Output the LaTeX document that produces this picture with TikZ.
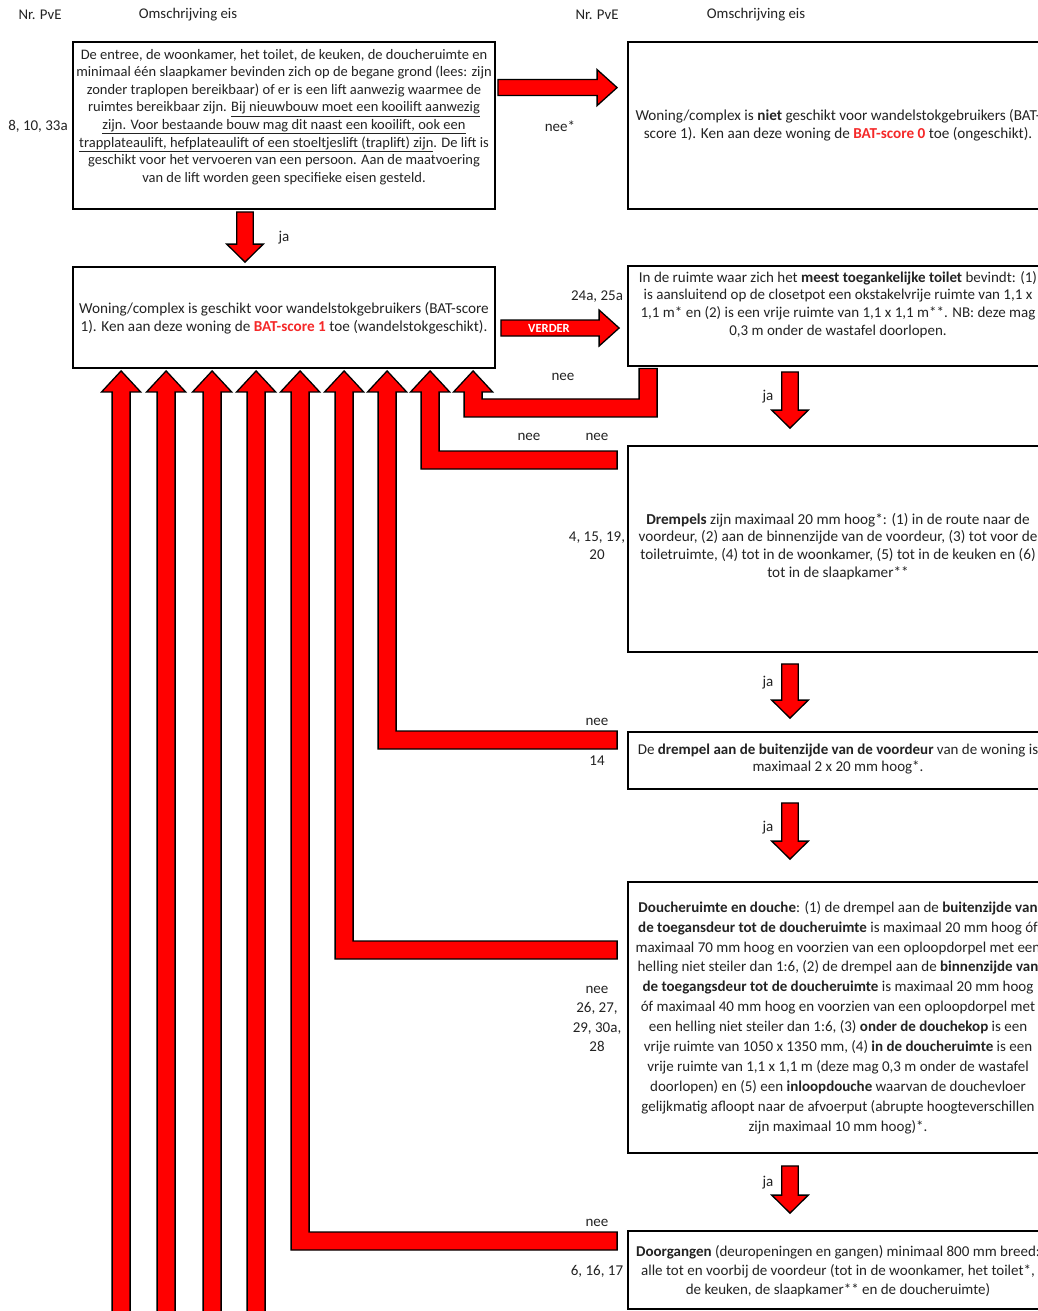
\documentclass[tikz,border=0pt]{standalone}
\usepackage{fontspec}
\setmainfont{Carlito}
\usetikzlibrary{calc}
\definecolor{arrred}{RGB}{255,0,0}
\definecolor{txt}{RGB}{35,35,35}
\definecolor{batred}{RGB}{245,40,40}
\newcommand\bred[1]{\textcolor{batred}{\textbf{#1}}}
% block arrows
\newcommand\rarr[2]{\path[blk] let \p1=(#1), \p2=(#2) in
  (\x1,\y1+8pt) -- (\x2-20pt,\y1+8pt) -- (\x2-20pt,\y1+18pt) -- (\x2,\y1)
  -- (\x2-20pt,\y1-18pt) -- (\x2-20pt,\y1-8pt) -- (\x1,\y1-8pt) -- cycle;}
\newcommand\darr[2]{\path[blk] let \p1=(#1), \p2=(#2) in
  (\x1-8.3pt,\y1) -- (\x1-8.3pt,\y2+18pt) -- (\x1-18.3pt,\y2+18pt) -- (\x1,\y2)
  -- (\x1+18.3pt,\y2+18pt) -- (\x1+8.3pt,\y2+18pt) -- (\x1+8.3pt,\y1) -- cycle;}
\newcommand\uarr[2]{\path[blk] let \p1=(#1), \p2=(#2) in
  (\x2-9pt,\y1) -- (\x2-9pt,\y2-21pt) -- (\x2-19.5pt,\y2-21pt) -- (\x2,\y2)
  -- (\x2+19.5pt,\y2-21pt) -- (\x2+9pt,\y2-21pt) -- (\x2+9pt,\y1) -- cycle;}
\newcommand\larr[2]{\path[blk] let \p1=(#1), \p2=(#2) in
  (\x1,\y1+9pt) -- (\x1,\y1-9pt) -- (\x2-9pt,\y1-9pt) -- (\x2-9pt,\y2-21pt)
  -- (\x2-19.5pt,\y2-21pt) -- (\x2,\y2) -- (\x2+19.5pt,\y2-21pt) -- (\x2+9pt,\y2-21pt)
  -- (\x2+9pt,\y1+9pt) -- cycle;}
\newcommand\jarr[3]{\path[blk] let \p1=(#1), \p2=(#2), \p3=(#3) in
  (\x1+9pt,\y1) -- (\x1+9pt,\y2-9pt) -- (\x3-9pt,\y2-9pt) -- (\x3-9pt,\y3-21pt)
  -- (\x3-19.5pt,\y3-21pt) -- (\x3,\y3) -- (\x3+19.5pt,\y3-21pt) -- (\x3+9pt,\y3-21pt)
  -- (\x3+9pt,\y2+9pt) -- (\x1-9pt,\y2+9pt) -- (\x1-9pt,\y1) -- cycle;}
\begin{document}
\begin{tikzpicture}[x=1pt,y=-1pt,
  box/.style={draw=black, line width=1.8pt, inner sep=0, minimum width=#1},
  box/.default=422,
  blk/.style={fill=arrred, draw=black, line width=1.3pt, line join=miter},
  lbl/.style={font=\fontsize{15}{19.5}\selectfont, text=txt, inner sep=0, align=center},
  btxt/.style={align=center, font=\fontsize{15}{17.8}\selectfont, text=txt, inner sep=0}]
\useasboundingbox[fill=white] (0,0) rectangle (1038,1311);

% headers
\node[lbl, font=\fontsize{14.8}{16}\selectfont] (h1) at (40,15) {Nr. PvE};
\node[lbl, font=\fontsize{14.8}{16}\selectfont] (h2) at (188,15) {Omschrijving eis};
\node[lbl, font=\fontsize{14.8}{16}\selectfont] (h3) at (597,15) {Nr. PvE};
\node[lbl, font=\fontsize{14.8}{16}\selectfont] (h4) at (756,15) {Omschrijving eis};

% boxes
\node[box, minimum height=167] (b1) at (284,125.5) {};
\node[box=420, minimum height=167] (b2) at (838,125.5) {};
\node[box, minimum height=101] (b3) at (284,317.5) {};
\node[box=420, minimum height=100] (b4) at (838,316) {};
\node[box=420, minimum height=206] (b5) at (838,549) {};
\node[box=420, minimum height=57] (b6) at (838,760.5) {};
\node[box=420, minimum height=271] (b7) at (838,1017.5) {};
\node[box=420, minimum height=78] (b8) at (838,1270) {};

% box texts
\node[btxt, font=\fontsize{14.5}{17.6}\selectfont] (t1) at (284,117) {De entree, de woonkamer, het toilet, de keuken, de doucheruimte en\\
minimaal één slaapkamer bevinden zich op de begane grond (lees: zijn\\
zonder traplopen bereikbaar) of er is een lift aanwezig waarmee de\\
ruimtes bereikbaar zijn. \underline{Bij nieuwbouw moet een kooilift aanwezig}\\
\underline{zijn. Voor bestaande bouw mag dit naast een kooilift, ook een}\\
\underline{trapplateaulift, hefplateaulift of een stoeltjeslift (traplift) zijn}. De lift is\\
geschikt voor het vervoeren van een persoon. Aan de maatvoering\\
van de lift worden geen specifieke eisen gesteld.};
\node[btxt, font=\fontsize{15.2}{17.8}\selectfont] (t2) at (838,125) {Woning/complex is \textbf{niet} geschikt voor wandelstokgebruikers (BAT-\\
score 1). Ken aan deze woning de \bred{BAT-score 0} toe (ongeschikt).};
\node[btxt, font=\fontsize{15.2}{17.8}\selectfont] (t3) at (284,318) {Woning/complex is geschikt voor wandelstokgebruikers (BAT-score\\
1). Ken aan deze woning de \bred{BAT-score 1} toe (wandelstokgeschikt).};
\node[btxt] (t4) at (838,304.5) {In de ruimte waar zich het \textbf{meest toegankelijke toilet} bevindt: (1)\\
is aansluitend op de closetpot een okstakelvrije ruimte van 1,1 x\\
1,1 m* en (2) is een vrije ruimte van 1,1 x 1,1 m**. NB: deze mag\\
0,3 m onder de wastafel doorlopen.};
\node[btxt, font=\fontsize{15.2}{17.8}\selectfont] (t5) at (838,546.5) {\textbf{Drempels} zijn maximaal 20 mm hoog*: (1) in de route naar de\\
voordeur, (2) aan de binnenzijde van de voordeur, (3) tot voor de\\
toiletruimte, (4) tot in de woonkamer, (5) tot in de keuken en (6)\\
tot in de slaapkamer**};
\node[btxt] (t6) at (838,759) {De \textbf{drempel aan de buitenzijde van de voordeur} van de woning is\\
maximaal 2 x 20 mm hoog*.};
\node[btxt, font=\fontsize{15}{19.9}\selectfont] (t7) at (838,1017.5) {\textbf{Doucheruimte en douche}: (1) de drempel aan de \textbf{buitenzijde van}\\
\textbf{de toegansdeur tot de doucheruimte} is maximaal 20 mm hoog óf\\
maximaal 70 mm hoog en voorzien van een oploopdorpel met een\\
helling niet steiler dan 1:6, (2) de drempel aan de \textbf{binnenzijde van}\\
\textbf{de toegangsdeur tot de doucheruimte} is maximaal 20 mm hoog\\
óf maximaal 40 mm hoog en voorzien van een oploopdorpel met\\
een helling niet steiler dan 1:6, (3) \textbf{onder de douchekop} is een\\
vrije ruimte van 1050 x 1350 mm, (4) \textbf{in de doucheruimte} is een\\
vrije ruimte van 1,1 x 1,1 m (deze mag 0,3 m onder de wastafel\\
doorlopen) en (5) een \textbf{inloopdouche} waarvan de douchevloer\\
gelijkmatig afloopt naar de afvoerput (abrupte hoogteverschillen\\
zijn maximaal 10 mm hoog)*.};
\node[btxt, font=\fontsize{15}{19}\selectfont] (t8) at (838,1271) {\textbf{Doorgangen} (deuropeningen en gangen) minimaal 800 mm breed:\\
alle tot en voorbij de voordeur (tot in de woonkamer, het toilet*,\\
de keuken, de slaapkamer** en de doucheruimte)};

% PvE numbers and labels
\node[lbl] (n1) at (38,126) {8, 10, 33a};
\node[lbl] (l1) at (560,126) {nee*};
\node[lbl] (l2) at (284,238) {ja};
\node[lbl] (n4) at (597,297) {24a, 25a};
\node[lbl] (l3) at (563,377) {nee};
\node[lbl] (l4) at (529,437) {nee};
\node[lbl] (l5) at (597,437) {nee};
\node[lbl, font=\fontsize{15}{18}\selectfont] (n5) at (597,546) {4, 15, 19,\\20};
\node[lbl] (l6) at (768,397) {ja};
\node[lbl] (l7) at (768,683) {ja};
\node[lbl] (l8) at (597,722) {nee};
\node[lbl] (n6) at (597,761) {14};
\node[lbl] (l9) at (768,828) {ja};
\node[lbl] (n7) at (597,1019) {nee\\26, 27,\\29, 30a,\\28};
\node[lbl] (l10) at (768,1183) {ja};
\node[lbl] (l11) at (597,1223) {nee};
\node[lbl] (n8) at (597,1271) {6, 16, 17};

% coordinates for arrows
\coordinate (r1s) at ($(b1.north east)+(2,46.5)$);
\coordinate (r1e) at ($(b2.north west)+(-10,46.5)$);
\coordinate (r2s) at ($(b3.east)+(5,10.5)$);
\coordinate (r2e) at ($(b4.west)+(-8,12)$);
\foreach \i/\dx in {1/49,2/94,3/140,4/184,5/228,6/272,7/315,8/358,9/401}{
  \coordinate (tp\i) at ($(b3.south west)+(\dx,2)$);
  \coordinate (bt\i) at ($(tp\i)+(0,960)$);
}
% arrows
\rarr{r1s}{r1e}
\rarr{r2s}{r2e}
\node[font=\fontsize{12.5}{13}\bfseries, text=white, inner sep=0] (verder) at (549,328.5) {VERDER};

\coordinate (d1s) at ($(b1.south)+(-39,2)$);
\coordinate (d1e) at ($(b3.north)+(-39,-4)$);
\darr{d1s}{d1e}
\coordinate (d2s) at ($(b4.south)+(-48,5)$);
\coordinate (d2e) at ($(b5.north)+(-48,-17)$);
\darr{d2s}{d2e}
\coordinate (d3s) at ($(b5.south)+(-48,11)$);
\coordinate (d3e) at ($(b6.north)+(-48,-13)$);
\darr{d3s}{d3e}
\coordinate (d4s) at ($(b6.south)+(-48,13)$);
\coordinate (d4e) at ($(b7.north)+(-48,-22)$);
\darr{d4s}{d4e}
\coordinate (d5s) at ($(b7.south)+(-48,12)$);
\coordinate (d5e) at ($(b8.north)+(-48,-17)$);
\darr{d5s}{d5e}

% feedback arrows to b3
\coordinate (hk1) at ($(b4.south west)+(21,1.5)$);
\coordinate (hk2) at ($(hk1)+(0,39.5)$);
\jarr{hk1}{hk2}{tp9}
\coordinate (lb5) at ($(b5.west)+(-10,-89)$);
\larr{lb5}{tp8}
\coordinate (lb6) at ($(b6.west)+(-10,-20.5)$);
\larr{lb6}{tp7}
\coordinate (lb7) at ($(b7.west)+(-10,-67.5)$);
\larr{lb7}{tp6}
\coordinate (lb8) at ($(b8.west)+(-10,-29)$);
\larr{lb8}{tp5}
\foreach \i in {1,2,3,4}{\uarr{bt\i}{tp\i}}
\end{tikzpicture}
\end{document}
